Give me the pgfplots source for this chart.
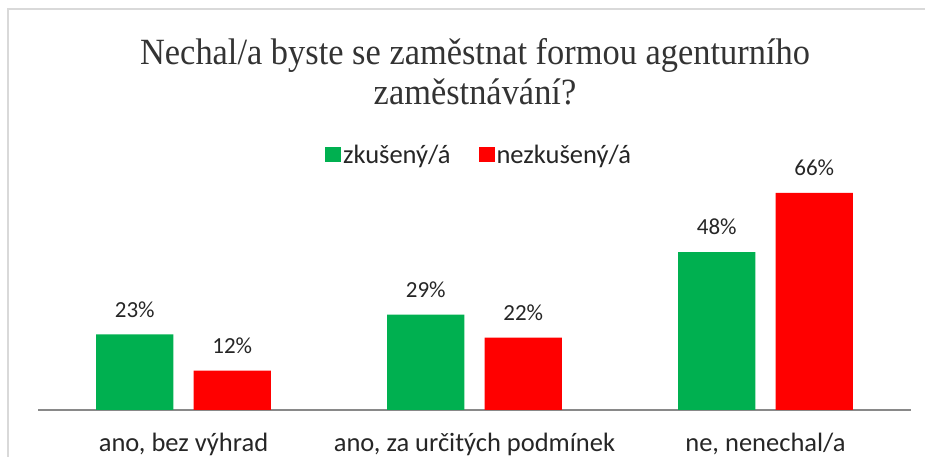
\documentclass[border=0pt]{standalone}
\usepackage{pgfplots}
\pgfplotsset{compat=1.18}
\usepackage{fontspec}
\setmainfont{Carlito}
\newfontfamily\titlefont[FakeStretch=0.93]{Liberation Serif}
\definecolor{cgreen}{HTML}{00B050}
\definecolor{cred}{HTML}{FF0000}
\definecolor{caxis}{HTML}{898989}
\definecolor{cframe}{HTML}{D9D9D9}
\begin{document}
\begin{tikzpicture}[x=1pt,y=1pt]
\path[use as bounding box] (0,0) rectangle (925,457);
\draw[cframe, line width=1.2pt] (8,0) -- (8,448) -- (925,448);
\node[font=\titlefont\fontsize{37}{40}\selectfont, align=center, text=black!80] at (475,385) {Nechal/a byste se zaměstnat formou agenturního\\zaměstnávání?};
\begin{axis}[
  at={(38pt,47pt)}, anchor=south west,
  scale only axis, width=873pt, height=230.3pt,
  xmin=-0.5, xmax=2.5, ymin=0, ymax=70,
  axis y line=none, axis x line*=bottom,
  x axis line style={caxis, line width=1.5pt, -},
  xtick={0,1,2}, xticklabels={{ano, bez výhrad},{ano, za určitých podmínek},{ne, nenechal/a}},
  major tick length=0pt,
  xticklabel style={font=\fontsize{26.5}{30}\selectfont, text=black!85, yshift=-20pt},
  ybar, bar width=0.265,
  /pgf/number format/assume math mode=true,
  nodes near coords={\pgfmathprintnumber{\pgfplotspointmeta}\%},
  nodes near coords style={font=\fontsize{23}{26}\selectfont, text=black!85, anchor=center, yshift=25pt},
  legend style={at={(441pt,255pt)}, anchor=center, draw=none, legend columns=2,
    font=\fontsize{26.5}{30}\selectfont, text=black!85,
    /tikz/every even column/.append style={column sep=26pt}},
  legend image code/.code={\fill[#1] (-2pt,-7pt) rectangle (14pt,8pt);},
]
\addplot[fill=cgreen, draw=none, bar shift=-0.1675] coordinates {(0,23) (1,29) (2,48)};
\addplot[fill=cred, draw=none, bar shift=0.1675] coordinates {(0,12) (1,22) (2,66)};
\legend{zkušený/á, nezkušený/á}
\end{axis}
\end{tikzpicture}
\end{document}
